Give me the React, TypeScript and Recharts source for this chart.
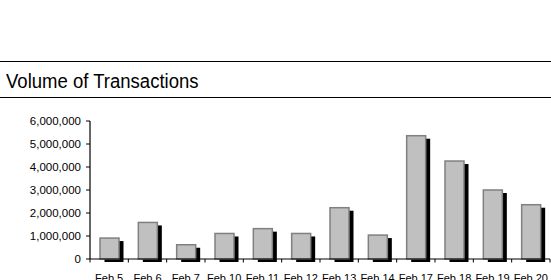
import React from "react";
import { BarChart, Bar, XAxis, YAxis } from "recharts";

const categories = ["Feb 5", "Feb 6", "Feb 7", "Feb 10", "Feb 11", "Feb 12", "Feb 13", "Feb 14", "Feb 17", "Feb 18", "Feb 19", "Feb 20"];
const volumes = [910000, 1590000, 620000, 1110000, 1320000, 1110000, 2230000, 1040000, 5360000, 4260000, 3000000, 2360000];
const yTicks = [0, 1000000, 2000000, 3000000, 4000000, 5000000, 6000000];
const title = "Volume of Transactions";

const data = categories.map((c, i) => ({ day: c, volume: volumes[i] }));

const FONT = '"Liberation Sans", Arial, sans-serif';

const ShadowBar = (props: any) => {
  const { x, y, width, height } = props;
  if (!height || height <= 0) return null;
  return (
    <g>
      <rect x={x + 4.5} y={y + 3} width={width} height={height} fill="#000" />
      <rect x={x} y={y} width={width} height={height} fill="#C0C0C0" stroke="#808080" strokeWidth={1.5} />
    </g>
  );
};

const XTick = (props: any) => {
  const { x, y, payload, index, visibleTicksCount } = props;
  const half = payload && payload.offset ? payload.offset : 19.17;
  const axisY = y - 15;
  return (
    <g>
      <line x1={x - half} x2={x - half} y1={axisY} y2={axisY + 3.5} stroke="#000" strokeWidth={1} />
      {index === visibleTicksCount - 1 ? (
        <line x1={x + half} x2={x + half} y1={axisY} y2={axisY + 3.5} stroke="#000" strokeWidth={1} />
      ) : null}
      <text x={x} y={y} dy="0.71em" textAnchor="middle" fontFamily={FONT} fontSize={11} fill="#000">
        {payload.value}
      </text>
    </g>
  );
};

const fmt = (v: number) => v.toLocaleString("en-US");

export default function App() {
  return (
    <div style={{ position: "absolute", left: 0, top: 0, width: 551, height: 280, background: "#fff", overflow: "hidden" }}>
      <div style={{ position: "absolute", left: 0, top: 61, width: 551, height: 1.3, background: "#000" }} />
      <div style={{ position: "absolute", left: 0, top: 97, width: 551, height: 1.3, background: "#000" }} />
      <div
        style={{
          position: "absolute",
          left: 6,
          top: 71,
          fontFamily: FONT,
          fontSize: 19.5,
          lineHeight: "21px",
          color: "#000",
          whiteSpace: "nowrap",
          transform: "scaleX(0.95)",
          transformOrigin: "left top",
        }}
      >
        {title}
      </div>
      <div style={{ position: "absolute", left: 0, top: 0 }}>
        <BarChart width={551} height={280} data={data} margin={{ top: 121, right: 1, bottom: 0, left: 0 }} barSize={19}>
          <XAxis
            dataKey="day"
            height={21}
            tickLine={false}
            tickSize={4}
            tickMargin={11}
            axisLine={{ stroke: "#000", strokeWidth: 1.2 }}
            tick={<XTick />}
            interval={0}
          />
          <YAxis
            width={90}
            domain={[0, 6000000]}
            ticks={yTicks}
            tickFormatter={fmt}
            tickSize={4}
            tickMargin={5}
            axisLine={{ stroke: "#000", strokeWidth: 1.2 }}
            tickLine={{ stroke: "#000", strokeWidth: 1 }}
            tick={{ fontFamily: FONT, fontSize: 11.5, fill: "#000" }}
            interval={0}
          />
          <Bar dataKey="volume" shape={<ShadowBar />} isAnimationActive={false} />
        </BarChart>
      </div>
    </div>
  );
}
